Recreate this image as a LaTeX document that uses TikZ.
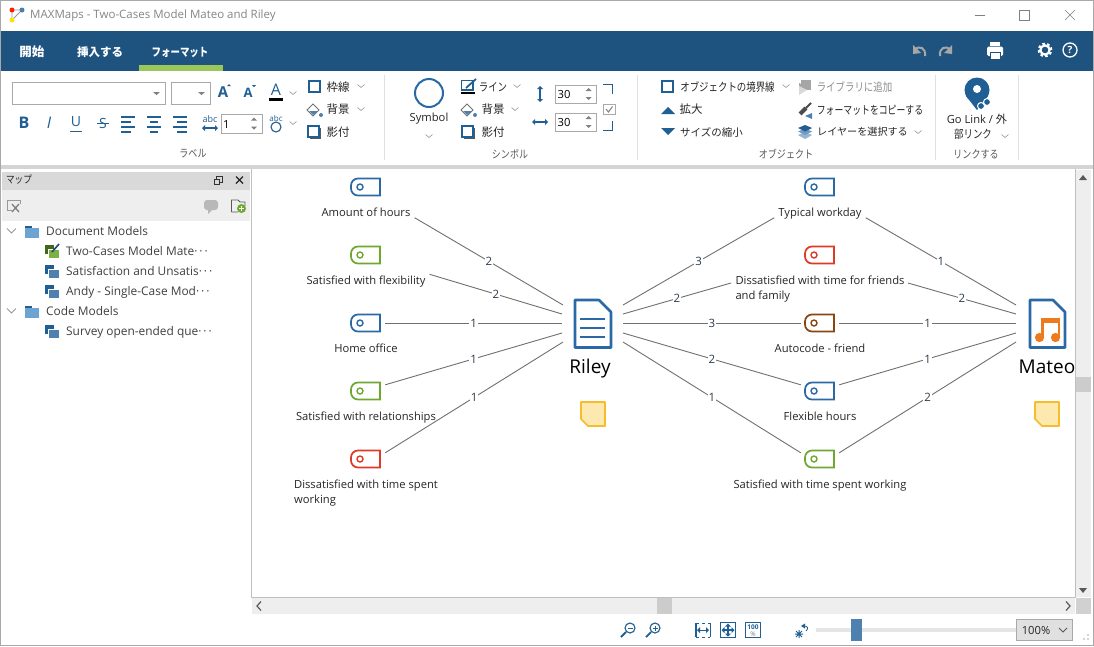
\documentclass[tikz,border=0pt]{standalone}
\usepackage{fontspec}
\setmainfont{Open Sans}
\newfontfamily\jpfont{Noto Sans CJK JP}
\newfontfamily\jpn[FakeStretch=0.82]{Noto Sans CJK JP}
\newfontfamily\jpk[FakeStretch=0.77]{Noto Sans CJK JP}
\definecolor{barblue}{HTML}{1E5380}
\definecolor{iconblue}{HTML}{1F5F93}
\definecolor{docblue}{HTML}{2A69A6}
\definecolor{midblue}{HTML}{4F81B0}
\definecolor{folderblue}{HTML}{6EA4D2}
\definecolor{tabgreen}{HTML}{9BC75A}
\definecolor{codegreen}{HTML}{6FA82E}
\definecolor{codered}{HTML}{DD3B26}
\definecolor{codebrown}{HTML}{8B4513}
\definecolor{noteyellow}{HTML}{FDE9B0}
\definecolor{noteedge}{HTML}{F6BC2A}
\definecolor{musicorange}{HTML}{EE7A1B}
\definecolor{panelgray}{HTML}{EEEEEE}
\definecolor{headgray}{HTML}{D9D9D9}
\definecolor{linegray}{HTML}{707070}
\definecolor{edgegray}{HTML}{A9A9A9}
\definecolor{numslate}{HTML}{2B3A4A}
\tikzset{
  txt/.style={inner sep=0pt,text=black!85,font=\fontsize{11.2}{14}\selectfont},
  jptxt/.style={inner sep=0pt,text=black!85,font=\jpfont\fontsize{11.5}{14}\selectfont},
  jpnarrow/.style={inner sep=0pt,text=black!85,font=\jpn\fontsize{11.5}{14}\selectfont},
  jptight/.style={inner sep=0pt,text=black!85,font=\jpk\fontsize{11.5}{14}\selectfont},
  grouptxt/.style={inner sep=0pt,text=black!65,font=\jpn\fontsize{11}{14}\selectfont},
  tabtxt/.style={inner sep=0pt,text=white,font=\jpfont\bfseries\fontsize{11.5}{14}\selectfont},
  treetxt/.style={inner sep=0pt,anchor=west,text height=9pt,text depth=3pt,text=black!75,font=\fontsize{11.9}{14}\selectfont},
  lab/.style={inner xsep=4pt,inner ysep=0pt,text height=10pt,text depth=1pt,text=black!85,font=\fontsize{11.2}{15}\selectfont},
  num/.style={midway,fill=white,inner sep=1pt,text=numslate,font=\fontsize{11.5}{14}\selectfont},
  link/.style={draw=linegray,line width=0.9pt},
  tagbox/.style={minimum width=38pt,minimum height=12pt,inner sep=0pt},
  tagline/.style={line width=1.7pt,fill=white},
  spinbox/.style={draw=edgegray,line width=0.8pt,fill=white},
  icon/.style={draw=iconblue,line width=1.3pt},
  sep/.style={draw=black!12,line width=0.8pt},
  docname/.style={inner sep=0pt,text height=14pt,text depth=5pt,text=black,font=\fontsize{19}{22}\selectfont},
}
% code tag with a node to connect to
\newcommand{\codetag}[4]{
  \node[tagbox] (#1) at (#2,#3) {};
  \draw[tagline,draw=#4] (#2+14,#3+8.5) -- (#2+14,#3-8.5) [rounded corners=7pt] -- (#2-15,#3-8.5) -- (#2-15,#3+8.5) [sharp corners] -- cycle;
  \draw[tagline,draw=#4,line width=1.4pt] (#2-6,#3) circle (3pt);
}
\newcommand{\chev}[2]{\draw[black!40,line width=0.6pt] (#1-3.5,#2-1.5) -- (#1,#2+1.5) -- (#1+3.5,#2-1.5);}
\newcommand{\shadowsq}[2]{
  \fill[black!65] (#1+2,#2+2) rectangle (#1+13,#2+13);
  \draw[icon,fill=white] (#1,#2) rectangle (#1+11,#2+11);
}
\newcommand{\bucket}[2]{
  \draw[black!55,fill=white,line width=0.9pt] (#1-7,#2) -- (#1-1,#2-6) -- (#1+5,#2) -- (#1-1,#2+6) -- cycle;
  \fill[midblue] (#1-5,#2+1) -- (#1+4,#2+1) -- (#1-1,#2+5) -- cycle;
  \fill[midblue] (#1+7,#2+5) circle (2pt);
}
\newcommand{\spinner}[3]{
  \draw[spinbox] (#1,#2) rectangle (#1+41,#2+18.5);
  \node[txt,text=black,anchor=west] at (#1+2,#2+9.5) {#3};
  \fill[black!50] (#1+30,#2+6) -- (#1+36,#2+6) -- (#1+33,#2+3) -- cycle;
  \fill[black!50] (#1+30,#2+12) -- (#1+36,#2+12) -- (#1+33,#2+15) -- cycle;
}
\newcommand{\modelicon}[3]{
  \fill[#2] (45,#1-6) rectangle (54,#1+3);
  \fill[white] (47.5,#1-2) rectangle (60,#1+8);
  \fill[#3] (49,#1-1) rectangle (59,#1+7);
}
% arrows with two heads: centre, half length, head size
\newcommand{\vboth}[5][iconblue]{
  \draw[#1,line width=#5] (#2,#3-#4+2) -- (#2,#3+#4-2);
  \fill[#1] (#2-3,#3-#4+3) -- (#2+3,#3-#4+3) -- (#2,#3-#4) -- cycle;
  \fill[#1] (#2-3,#3+#4-3) -- (#2+3,#3+#4-3) -- (#2,#3+#4) -- cycle;
}
\newcommand{\hboth}[5][iconblue]{
  \draw[#1,line width=#5] (#2-#4+2,#3) -- (#2+#4-2,#3);
  \fill[#1] (#2-#4+3,#3-3) -- (#2-#4+3,#3+3) -- (#2-#4,#3) -- cycle;
  \fill[#1] (#2+#4-3,#3-3) -- (#2+#4-3,#3+3) -- (#2+#4,#3) -- cycle;
}
\begin{document}
\begin{tikzpicture}[x=1pt,y=-1pt]
\useasboundingbox (0,0) rectangle (1094,646);
\fill[white] (0,0) rectangle (1094,646);

%title bar
\draw[black!40,line width=0.8pt] (12,10) -- (22,10) (12,10) -- (12,20) (22,10) -- (12,20);
\fill[red!75!orange] (12,10) circle (2.5pt);
\fill[iconblue!80] (22,10) circle (2.5pt);
\fill[yellow!85!orange] (12,20) circle (2.5pt);
\node[txt,anchor=west,text=black!48,font=\fontsize{11.5}{14}\selectfont] (titletxt) at (30,16) {MAXMaps - Two-Cases Model Mateo and Riley};
\draw[black!50] (975,15.5) -- (985,15.5);
\draw[black!50] (1019.5,10.5) rectangle (1029.5,20.5);
\draw[black!50] (1065,10) -- (1075,20) (1075,10) -- (1065,20);

%blue bar and tabs
\fill[barblue] (1,31) rectangle (1093,71);
\fill[tabgreen] (139,65) rectangle (223,71);
\node[tabtxt,font=\jpfont\bfseries\fontsize{12.5}{14}\selectfont] (tabstart) at (32,52) {開始};
\node[tabtxt] (tabinsert) at (100,52) {挿入する};
\node[tabtxt,font=\jpn\bfseries\fontsize{11.5}{14}\selectfont] (tabformat) at (180,52) {フォーマット};
%undo redo
\draw[black!35,line width=2pt] (925,56) .. controls (926,47) and (919,46) .. (915,49);
\fill[black!35] (913,45) -- (913,54) -- (921,53) -- cycle;
\draw[black!35,line width=2pt] (940,56) .. controls (939,47) and (946,46) .. (950,49);
\fill[black!35] (952,45) -- (952,54) -- (944,53) -- cycle;
%printer
\fill[white] (990,42) rectangle (1000,46);
\fill[white,rounded corners=1.5pt] (987,46.5) rectangle (1003,56);
\draw[barblue,fill=white,line width=0.8pt] (990,52) rectangle (1000,59);
%gear and help
\draw[white,line width=2.6pt,dash pattern=on 2.4pt off 2.3pt] (1045,50) circle (6pt);
\draw[white,line width=2.2pt] (1045,50) circle (4.6pt);
\draw[white,line width=1.3pt] (1070,50) circle (7pt);
\node[inner sep=0pt,text=white,font=\fontsize{10}{12}\selectfont\bfseries] (helpmark) at (1070,50) {?};

%label group
\draw[spinbox] (12.5,82.5) rectangle (165.5,104.5);
\fill[black!50] (153,92) -- (160,92) -- (156.5,95) -- cycle;
\draw[spinbox] (171.5,82.5) rectangle (210.5,104.5);
\fill[black!50] (198,92) -- (205,92) -- (201.5,95) -- cycle;
\node[inner sep=0pt,text=iconblue,font=\fontsize{15}{16}\selectfont\bfseries] (growA) at (223,92) {A};
\fill[iconblue] (227,86) -- (231,86) -- (229,84) -- cycle;
\node[inner sep=0pt,text=iconblue,font=\fontsize{13}{16}\selectfont\bfseries] (shrinkA) at (248,93) {A};
\fill[iconblue] (252,85) -- (256,85) -- (254,87) -- cycle;
\node[inner sep=0pt,text=iconblue,font=\fontsize{16}{16}\selectfont] (colorA) at (276,90) {A};
\fill[black] (269,98) rectangle (283,101);
\chev{293}{93}
\node[inner sep=0pt,text=iconblue,font=\fontsize{16}{16}\selectfont\bfseries] (boldB) at (24,123) {B};
\node[inner sep=0pt,text=iconblue,font=\fontsize{16}{16}\selectfont\itshape] (italicI) at (49,123) {I};
\node[inner sep=0pt,text=iconblue,font=\fontsize{14}{16}\selectfont] (underU) at (76,122) {U};
\draw[iconblue] (70,131) -- (82,131);
\node[inner sep=0pt,text=iconblue,font=\fontsize{14}{16}\selectfont] (strikeS) at (103,123) {S};
\draw[iconblue] (97,123) -- (109,123);
\draw[iconblue,line width=1.4pt] (121,117) -- (135,117) (121,122) -- (131,122) (121,127) -- (135,127) (121,132) -- (131,132);
\draw[iconblue,line width=1.4pt] (147,117) -- (161,117) (150,122) -- (158,122) (147,127) -- (161,127) (150,132) -- (158,132);
\draw[iconblue,line width=1.4pt] (173,117) -- (187,117) (177,122) -- (187,122) (173,127) -- (187,127) (177,132) -- (187,132);
\node[inner sep=0pt,text=iconblue,font=\fontsize{9}{10}\selectfont] (stretchabc) at (210,119) {abc};
\hboth{210}{128}{8}{1.3pt}
\spinner{221}{114.5}{1}
\node[inner sep=0pt,text=iconblue,font=\fontsize{8}{9}\selectfont] (circleabc) at (276,118) {abc};
\draw[iconblue,line width=1.1pt] (276,127) circle (5pt);
\chev{293}{123}
\draw[icon] (309,81) rectangle (320,92);
\node[jptxt] (labelborder) at (338,87) {枠線};
\chev{361}{86}
\bucket{314}{110}
\node[jptxt] (labelback) at (338,109) {背景};
\chev{361}{109}
\shadowsq{308}{126}
\node[jptxt] (labelshadow) at (338,132) {影付};
\node[grouptxt] (grouplabel) at (193,154) {ラベル};
\draw[sep] (384,75) -- (384,160);

%symbol group
\draw[draw=docblue,line width=2pt] (429,93) circle (14pt);
\node[txt] (symboltxt) at (429,119) {Symbol};
\chev{429}{136}
\draw[icon] (461.5,80.5) rectangle (473,90);
\draw[iconblue,line width=1.8pt] (466,88) -- (476,79);
\fill[black] (461,91.5) rectangle (475,93.5);
\node[jpnarrow] (symbolline) at (493,87) {ライン};
\chev{517}{86}
\bucket{468}{110}
\node[jptxt] (symbolback) at (493,109) {背景};
\chev{515}{109}
\shadowsq{462}{126}
\node[jptxt] (symbolshadow) at (493,132) {影付};
\node[grouptxt] (groupsymbol) at (510,154) {シンボル};
\vboth{540}{94}{8}{1.4pt}
\hboth{540}{122}{8}{1.4pt}
\spinner{555.5}{85}{30}
\spinner{555.5}{113}{30}
\draw[iconblue,line width=0.9pt] (603,84.5) -- (612.5,84.5) -- (612.5,94);
\draw[iconblue,line width=0.9pt] (603,130.5) -- (612.5,130.5) -- (612.5,121);
\draw[spinbox] (603.5,104) rectangle (615,114.5);
\draw[black!50,line width=1pt] (606,109) -- (608.5,112) -- (612.5,106.5);
\draw[sep] (637,75) -- (637,160);

%object group
\draw[icon] (662,81) rectangle (673,92);
\node[jpnarrow] (objborder) at (727.5,87) {オブジェクトの境界線};
\chev{786}{86}
\fill[iconblue] (661,114) -- (675,114) -- (668,107) -- cycle;
\node[jptxt] (objgrow) at (691,109) {拡大};
\fill[iconblue] (661,128) -- (675,128) -- (668,135) -- cycle;
\node[jptxt,font=\jpfont\fontsize{10.5}{14}\selectfont] (objshrink) at (711.5,132) {サイズの縮小};
\fill[black!35] (799,83) -- (807,87) -- (799,92) -- cycle;
\fill[black!35] (801,80) rectangle (811,90);
\fill[black!15] (799,86) -- (807,90) -- (799,95) -- cycle;
\node[jpnarrow,text=black!45] (objlibrary) at (854.5,87) {ライブラリに追加};
\draw[black!70,line width=4pt] (800,114) -- (806,108);
\draw[black!70,line width=2pt] (806,108) -- (811,103);
\fill[midblue] (805,116) -- (812,113) -- (812,119) -- cycle;
\node[jptight] (objcopy) at (870,110) {フォーマットをコピーする};
\fill[midblue!60] (798,135) -- (805,132) -- (812,135) -- (805,139) -- cycle;
\fill[midblue!80] (798,131.5) -- (805,128.5) -- (812,131.5) -- (805,135) -- cycle;
\fill[iconblue] (798,128) -- (805,125) -- (812,128) -- (805,131.5) -- cycle;
\node[jptxt,font=\jpfont\fontsize{10.1}{14}\selectfont] (objlayer) at (862.5,132) {レイヤーを選択する};
\chev{918}{132}
\node[grouptxt] (groupobject) at (786,154) {オブジェクト};
\draw[sep] (935,75) -- (935,160);

%link group
\fill[iconblue] (977,90) circle (12.5pt);
\fill[iconblue] (966,96) -- (988,96) -- (977,110) -- cycle;
\fill[white] (977,89) circle (4pt);
\draw[white,fill=iconblue,line width=1pt] (981,106) circle (3.5pt);
\draw[white,fill=iconblue,line width=1pt] (987,102) circle (3.5pt);
\node[inner sep=0pt,text=black!85,font=\fontsize{11.2}{14}\selectfont] (linktxt) at (977,119) {Go Link / {\jpfont 外}};
\node[jpnarrow] (linktxtb) at (973,134) {部リンク};
\chev{1005}{136}
\node[grouptxt] (grouplink) at (976,154) {リンクする};
\draw[sep] (1018,75) -- (1018,160);

%band under ribbon
\fill[black!17] (1,165) rectangle (1093,169);

%left panel
\fill[headgray] (2,172) rectangle (250,190);
\node[jpnarrow,font=\jpn\fontsize{10.5}{14}\selectfont] (paneltitle) at (19,180) {マップ};
\draw[black!80,line width=0.9pt] (216,176.5) rectangle (222,182);
\draw[black!80,fill=headgray,line width=0.9pt] (214,179) rectangle (219.5,184.5);
\draw[black!85,line width=1.4pt] (236,176.5) -- (243,183.5) (243,176.5) -- (236,183.5);
\fill[panelgray] (2,190) rectangle (250,221);
\draw[black!40,line width=0.8pt] (7,210) -- (7,200) -- (20,200) -- (20,204) (7,210) -- (12,210);
\draw[black!50,line width=1.3pt] (12,204) -- (19,212) (19,204) -- (12,212);
\fill[black!28,rounded corners=3pt] (204,200) rectangle (218,210);
\fill[black!28] (208,209) -- (213,209) -- (208,214) -- cycle;
\draw[black!65,line width=0.8pt] (231.5,212) -- (231.5,200) -- (238,200) -- (240,202) -- (245,202) -- (245,206) (231.5,212) -- (238,212);
\fill[codegreen] (241.5,208.5) circle (4.5pt);
\draw[white,line width=1pt] (241.5,206) -- (241.5,211) (239,208.5) -- (244,208.5);
\draw[black!40,line width=0.9pt] (7,228.5) -- (11.5,233) -- (16,228.5);
\fill[iconblue] (25,225.5) rectangle (32,229);
\fill[folderblue] (25,228) rectangle (39,238);
\node[treetxt] (treedoc) at (46,232) {Document Models};
\modelicon{251}{codegreen!60!black}{codegreen!90}
\draw[iconblue!80!black,line width=1.6pt] (52,252) -- (59,244);
\node[treetxt] (treeone) at (66,252) {Two-Cases Model Mate·\kern2pt·\kern2pt·};
\modelicon{271}{iconblue}{midblue}
\node[treetxt] (treetwo) at (66,272) {Satisfaction and Unsatis·\kern2pt·\kern2pt·};
\modelicon{291}{iconblue}{midblue}
\node[treetxt] (treethree) at (66,292) {Andy - Single-Case Mod·\kern2pt·\kern2pt·};
\draw[black!40,line width=0.9pt] (7,308.5) -- (11.5,313) -- (16,308.5);
\fill[iconblue] (25,305.5) rectangle (32,309);
\fill[folderblue] (25,308) rectangle (39,318);
\node[treetxt] (treecode) at (46,312) {Code Models};
\modelicon{331}{iconblue}{midblue}
\node[treetxt] (treefour) at (66,332) {Survey open-ended que·\kern2pt·\kern2pt·};

%ports of the two documents
\coordinate (rileyW1) at (563,305);
\coordinate (rileyW2) at (562,314);
\coordinate (rileyW3) at (562,323);
\coordinate (rileyW4) at (562,333);
\coordinate (rileyW5) at (563,342);
\coordinate (rileyE1) at (623,305);
\coordinate (rileyE2) at (623,314);
\coordinate (rileyE3) at (623,323);
\coordinate (rileyE4) at (623,333);
\coordinate (rileyE5) at (623,342);
\coordinate (mateoW1) at (1016,305);
\coordinate (mateoW2) at (1016,314);
\coordinate (mateoW3) at (1016,323);
\coordinate (mateoW4) at (1016,333);
\coordinate (mateoW5) at (1016,342);
\coordinate (friendsW) at (731,283);
\coordinate (friendsE) at (908,283);

%left codes
\codetag{amountTag}{366}{187}{docblue}
\node[lab] (amount) at (366,212) {Amount of hours};
\codetag{flexTag}{366}{255}{codegreen}
\node[lab] (flex) at (366,280) {Satisfied with flexibility};
\codetag{homeTag}{366}{323}{docblue}
\node[lab] (home) at (366,348) {Home office};
\codetag{relTag}{366}{391}{codegreen}
\node[lab] (rel) at (366,416) {Satisfied with relationships};
\codetag{spentTag}{366}{459}{codered}
\node[lab,align=left] (spent) at (366,499) {Dissatisfied with time spent\\working};

%middle codes
\codetag{typicalTag}{820}{187}{docblue}
\node[lab] (typical) at (820,212) {Typical workday};
\codetag{friendsTag}{820}{255}{codered}
\node[lab,align=left] (friends) at (820,295) {Dissatisfied with time for friends\\and family};
\codetag{autoTag}{820}{323}{codebrown}
\node[lab] (auto) at (820,348) {Autocode - friend};
\codetag{hoursTag}{820}{391}{docblue}
\node[lab] (hours) at (820,416) {Flexible hours};
\codetag{workTag}{820}{459}{codegreen}
\node[lab] (work) at (820,484) {Satisfied with time spent working};

%links
\draw[link] (amount.south east) -- node[num] (n1) {2} (rileyW1);
\draw[link] (flex.north east) -- node[num] (n2) {2} (rileyW2);
\draw[link] (homeTag.east) -- node[num] (n3) {1} (rileyW3);
\draw[link] (relTag.north east) -- node[num] (n4) {1} (rileyW4);
\draw[link] (spentTag.north east) -- node[num] (n5) {1} (rileyW5);
\draw[link] (rileyE1) -- node[num] (n6) {3} (typical.south west);
\draw[link] (rileyE2) -- node[num] (n7) {2} (friendsW);
\draw[link] (rileyE3) -- node[num] (n8) {3} (autoTag.west);
\draw[link] (rileyE4) -- node[num] (n9) {2} (hoursTag.north west);
\draw[link] (rileyE5) -- node[num] (n10) {1} (workTag.north west);
\draw[link] (typical.south east) -- node[num] (n11) {1} (mateoW1);
\draw[link] (friendsE) -- node[num] (n12) {2} (mateoW2);
\draw[link] (autoTag.east) -- node[num] (n13) {1} (mateoW3);
\draw[link] (hoursTag.north east) -- node[num] (n14) {1} (mateoW4);
\draw[link] (workTag.north east) -- node[num] (n15) {2} (mateoW5);

%riley document
\draw[draw=docblue,line width=2.6pt,fill=white,line join=round] (575,300) -- (599,300) -- (611,312) -- (611,347.5) -- (575,347.5) -- cycle;
\draw[docblue,line width=2.8pt] (580,319) -- (605,319) (580,328) -- (605,328) (580,337) -- (605,337);
\node[docname] (riley) at (590,368.5) {Riley};
\draw[draw=noteedge,fill=noteyellow,line width=1.6pt,line join=round] (581,402) -- (605,402) -- (605,426) -- (588,426) -- (581,419) -- cycle;

%mateo document
\draw[draw=docblue,line width=2.6pt,fill=white,line join=round] (1030,300) -- (1053,300) -- (1065,312) -- (1065,347.5) -- (1030,347.5) -- cycle;
\fill[musicorange] (1041,318) rectangle (1060,323);
\fill[musicorange] (1041,318) rectangle (1043.5,337);
\fill[musicorange] (1057.5,318) rectangle (1060,337);
\fill[musicorange] (1039.5,337.5) circle (4.6pt);
\fill[musicorange] (1055.5,337.5) circle (4.6pt);
\node[docname] (mateo) at (1047,368.5) {Mateo};
\draw[draw=noteedge,fill=noteyellow,line width=1.6pt,line join=round] (1035,402) -- (1059,402) -- (1059,426) -- (1042,426) -- (1035,419) -- cycle;

%scrollbars
\fill[panelgray] (1075,170) rectangle (1093,597);
\fill[black!20] (1075.5,377) rectangle (1091,392);
\fill[black!65] (1079,180) -- (1087,180) -- (1083,175) -- cycle;
\fill[black!65] (1079,588) -- (1087,588) -- (1083,593) -- cycle;
\fill[panelgray] (252,598) rectangle (1075,614);
\fill[black!20] (657,598) rectangle (672,614);
\draw[black!65,line width=1.2pt] (261,601.5) -- (257,606) -- (261,610.5);
\draw[black!65,line width=1.2pt] (1066,601.5) -- (1070,606) -- (1066,610.5);
\fill[black!18] (1076,598) rectangle (1091,614);
\fill[white] (1091,170) rectangle (1093,614);
\draw[black!25,line width=1pt] (251.5,169) -- (251.5,597.5) -- (1075.5,597.5) -- (1075.5,169);

%status bar
\draw[iconblue,line width=1.1pt] (630,628) circle (5pt);
\draw[iconblue,line width=1.8pt] (626,632) -- (621,637);
\draw[iconblue] (627.5,628) -- (632.5,628);
\draw[iconblue,line width=1.1pt] (655,628) circle (5pt);
\draw[iconblue,line width=1.8pt] (651,632) -- (646,637);
\draw[iconblue] (652.5,628) -- (657.5,628) (655,625.5) -- (655,630.5);
\draw[iconblue,line width=1.4pt] (696,623) -- (696,637) (710.5,623) -- (710.5,637);
\draw[iconblue,dashed,line width=0.7pt] (696,623) -- (710,623) (696,637) -- (710,637);
\hboth{703}{630}{6}{1pt}
\draw[iconblue,line width=1pt] (720.5,622.5) rectangle (735.5,637.5);
\hboth{728}{630}{6.5}{1.1pt}
\vboth{728}{630}{6.5}{1.1pt}
\draw[iconblue,line width=0.9pt] (745.5,622.5) rectangle (760.5,637.5);
\node[inner sep=0pt,text=iconblue,font=\fontsize{6.5}{7}\selectfont\bfseries] (fitpct) at (753,627) {100};
\node[inner sep=0pt,text=black!50,font=\fontsize{6.5}{7}\selectfont] (fitsign) at (753,634) {\%};
\draw[iconblue,line width=1pt] (795,634) -- (803,634) (799,630) -- (799,638) (796,631) -- (802,637) (802,631) -- (796,637);
\draw[iconblue,line width=0.8pt] (806,631) .. controls (809,628) and (808,626) .. (803,626);
\fill[iconblue] (805,623.5) -- (805,628.5) -- (801,626) -- cycle;
\fill[black!10] (816,628) rectangle (1016,632);
\fill[midblue] (851,619) rectangle (862,641);
\draw[draw=edgegray,fill=black!12,line width=0.8pt] (1016.5,619.5) rectangle (1072,640);
\node[txt] (zoompct) at (1036,630) {100\%};
\draw[black!65,line width=0.8pt] (1059,628) -- (1063,632) -- (1067,628);
\fill[black!35] (1088,635) circle (0.8pt) (1088,639) circle (0.8pt) (1084,639) circle (0.8pt);

%window border
\draw[edgegray,line width=1.4pt] (0.7,0.7) rectangle (1093.3,645.3);
\end{tikzpicture}
\end{document}
